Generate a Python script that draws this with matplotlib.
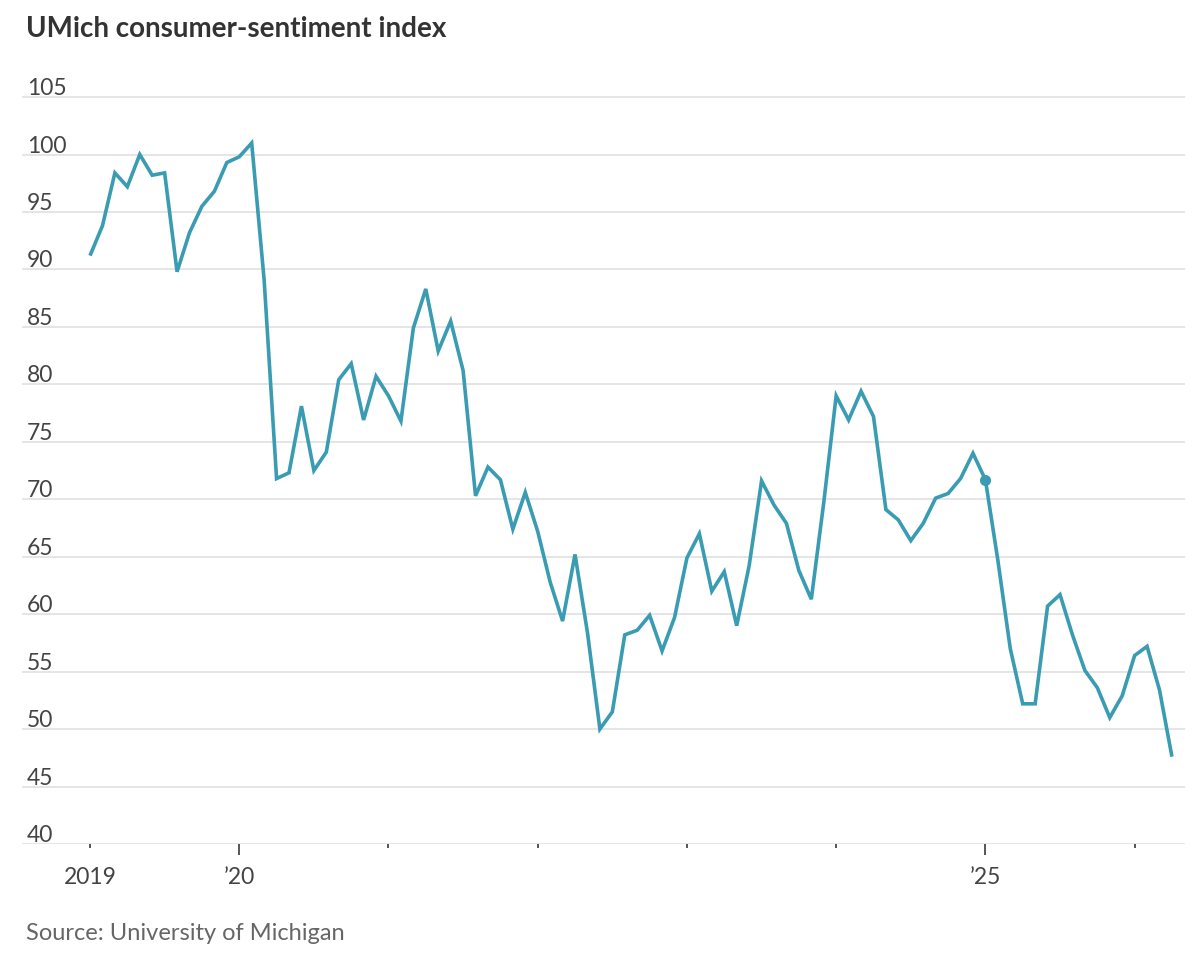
import numpy as np
import matplotlib
matplotlib.use("Agg")
import matplotlib.pyplot as plt
import matplotlib.transforms as mtransforms

# ------------------------------------------------
#   data: UMich consumer sentiment, monthly, Jan 2019 .. Apr 2026
# ------------------------------------------------
sentiment = [
    91.2, 93.8, 98.4, 97.2, 100.0, 98.2, 98.4, 89.8, 93.2, 95.5, 96.8, 99.3,   # 2019
    99.8, 101.0, 89.1, 71.8, 72.3, 78.1, 72.5, 74.1, 80.4, 81.8, 76.9, 80.7,   # 2020
    79.0, 76.8, 84.9, 88.3, 82.9, 85.5, 81.2, 70.3, 72.8, 71.7, 67.4, 70.6,    # 2021
    67.2, 62.8, 59.4, 65.2, 58.4, 50.0, 51.5, 58.2, 58.6, 59.9, 56.8, 59.7,    # 2022
    64.9, 67.0, 62.0, 63.7, 59.0, 64.2, 71.6, 69.5, 67.9, 63.8, 61.3, 69.7,    # 2023
    79.0, 76.9, 79.4, 77.2, 69.1, 68.2, 66.4, 67.9, 70.1, 70.5, 71.8, 74.0,    # 2024
    71.7, 64.7, 57.0, 52.2, 52.2, 60.7, 61.7, 58.2, 55.1, 53.6, 51.0, 52.9,    # 2025
    56.4, 57.2, 53.4, 47.6,                                                    # 2026
]
months = np.arange(len(sentiment))          # 0 = Jan 2019
highlight_month = 72                        # Jan 2025 dot

year_ticks = [0, 12, 24, 36, 48, 60, 72, 84]
year_labels = ["2019", "\u201920", "", "", "", "", "\u201925", ""]
long_ticks = [12, 72]

y_ticks = list(range(40, 106, 5))

line_color = "#3a9cb2"
grid_color = "#e5e5e5"

# ------------------------------------------------
#   fonts
# ------------------------------------------------
plt.rcParams["font.family"] = ["Lato", "DejaVu Sans"]

fig = plt.figure(figsize=(12, 9.7), dpi=100)
ax = fig.add_axes([22 / 1200, 1 - 845 / 970, (1185 - 22) / 1200, (845 - 92.3) / 970])

ax.plot(months, sentiment, color=line_color, linewidth=2.6, solid_joinstyle="miter",
        solid_capstyle="butt", zorder=3)
ax.plot(months[highlight_month], sentiment[highlight_month], "o", color=line_color,
        markersize=7, zorder=4)

ax.set_xlim(-5.47, 88.05)
ax.set_ylim(40, 105.5)

for v in y_ticks:
    ax.axhline(v, color=grid_color, linewidth=1.4, zorder=1)

# y labels sit above their gridline, flush left
trans = mtransforms.blended_transform_factory(fig.transFigure, ax.transData)
offset = mtransforms.ScaledTranslation(0, 3 / 100, fig.dpi_scale_trans)
for v in y_ticks:
    ax.text(27 / 1200, v, str(v), transform=trans + offset, ha="left", va="baseline",
            fontsize=16.5, color="#444444")

ax.set_yticks([])
ax.set_xticks(year_ticks)
ax.set_xticklabels(year_labels, fontsize=16.5, color="#444444")
ax.tick_params(axis="x", length=3, width=1.4, color="#555555", pad=13)
for t in ax.xaxis.get_major_ticks():
    if t.get_loc() in long_ticks:
        t.tick1line.set_markersize(8)

for s in ax.spines.values():
    s.set_visible(False)

fig.text(26 / 1200, 1 - 37 / 970, "UMich consumer-sentiment index", ha="left",
         va="baseline", fontsize=20, fontweight="bold", color="#333333")
fig.text(26 / 1200, 1 - 940 / 970, "Source: University of Michigan", ha="left",
         va="baseline", fontsize=17, color="#666666")

fig.savefig("out.png", dpi=100)
